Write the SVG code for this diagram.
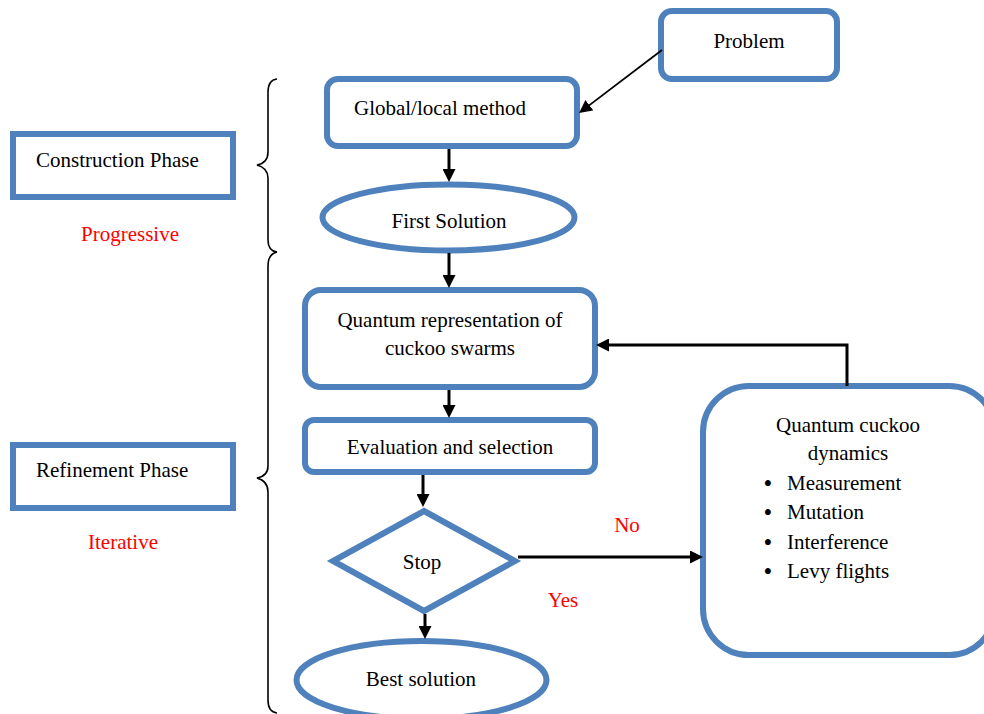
<svg xmlns="http://www.w3.org/2000/svg" width="984" height="714" viewBox="0 0 984 714">
<style>
.box{fill:#fff;stroke:#4F81BD;stroke-width:6}
.t{font-family:"Liberation Serif","Times New Roman",serif;font-size:21px;fill:#000}
.c{text-anchor:middle}
.red{fill:#ff0000}
.bul{font-family:"Liberation Serif","Times New Roman",serif;font-size:25px;fill:#000;text-anchor:middle}
.ar{fill:none;stroke:#000;stroke-width:3}
.thin{fill:none;stroke:#000;stroke-width:1.8}
.brace{fill:none;stroke:#000;stroke-width:1.6}
</style>
<defs>
<marker id="ah" viewBox="0 0 12 12" refX="6" refY="6" markerWidth="13" markerHeight="13" markerUnits="userSpaceOnUse" orient="auto">
<path d="M0,0 L12,6 L0,12 z" fill="#000"/>
</marker>
</defs>
<rect width="984" height="714" fill="#fff"/>

<g id="construction-phase">
<rect class="box" x="13" y="134" width="220" height="63"/>
<text class="t" x="36" y="167">Construction Phase</text>
<text class="t red c" x="130" y="241">Progressive</text>
</g>

<g id="refinement-phase">
<rect class="box" x="13" y="445" width="220" height="63"/>
<text class="t" x="36" y="477">Refinement Phase</text>
<text class="t red c" x="123" y="549">Iterative</text>
</g>

<g id="braces">
<path class="brace" d="M277,79 Q268,80 268,92 L268,152 Q268,163 257,165 Q268,168 268,178 L268,240 Q268,251 277,252"/>
<path class="brace" d="M277,252 Q268,254 268,266 L268,466 Q268,476 257,478 Q268,481 268,492 L268,700 Q268,712 277,713"/>
</g>

<g id="problem">
<rect class="box" x="661" y="11" width="176" height="68" rx="11"/>
<text class="t c" x="749" y="48">Problem</text>
</g>

<g id="global-local">
<rect class="box" x="327" y="79" width="250" height="67" rx="11"/>
<text class="t c" x="440" y="115">Global/local method</text>
</g>

<g id="first-solution">
<ellipse class="box" cx="448.5" cy="217.5" rx="126" ry="33"/>
<text class="t c" x="449" y="228">First Solution</text>
</g>

<g id="quantum-representation">
<rect class="box" x="305" y="290" width="290" height="97" rx="16"/>
<text class="t c" x="450" y="327">Quantum representation of</text>
<text class="t c" x="450" y="355">cuckoo swarms</text>
</g>

<g id="evaluation">
<rect class="box" x="305" y="420" width="290" height="52" rx="9"/>
<text class="t c" x="450" y="454">Evaluation and selection</text>
</g>

<g id="stop">
<polygon class="box" points="424,511 515,561 424,611 333,561"/>
<text class="t c" x="422" y="569">Stop</text>
</g>

<g id="best-solution">
<ellipse class="box" cx="421.5" cy="680" rx="125" ry="39"/>
<text class="t c" x="421" y="686">Best solution</text>
</g>

<g id="quantum-dynamics">
<rect class="box" x="703" y="386" width="292" height="269" rx="46"/>
<text class="t c" x="848" y="432">Quantum cuckoo</text>
<text class="t c" x="848" y="460">dynamics</text>
<text class="bul" x="768" y="492">•</text>
<text class="t" x="787" y="490">Measurement</text>
<text class="bul" x="768" y="521">•</text>
<text class="t" x="787" y="519">Mutation</text>
<text class="bul" x="768" y="551">•</text>
<text class="t" x="787" y="549">Interference</text>
<text class="bul" x="768" y="580">•</text>
<text class="t" x="787" y="578">Levy flights</text>
</g>

<g id="connectors">
<path class="thin" d="M662,50 L584.2,109.1" marker-end="url(#ah)"/>
<path class="ar" d="M449,149 L449,175.5" marker-end="url(#ah)"/>
<path class="ar" d="M449,253 L449,281.5" marker-end="url(#ah)"/>
<path class="ar" d="M449,390 L449,411.5" marker-end="url(#ah)"/>
<path class="ar" d="M423,475 L423,500.5" marker-end="url(#ah)"/>
<path class="ar" d="M425,614 L425,632.5" marker-end="url(#ah)"/>
<path class="ar" d="M518,557 L696.5,557" marker-end="url(#ah)"/>
<path class="ar" d="M847,386 L847,345 L602.5,345" marker-end="url(#ah)"/>
<text class="t red c" x="627" y="532">No</text>
<text class="t red c" x="563" y="607">Yes</text>
</g>
</svg>
